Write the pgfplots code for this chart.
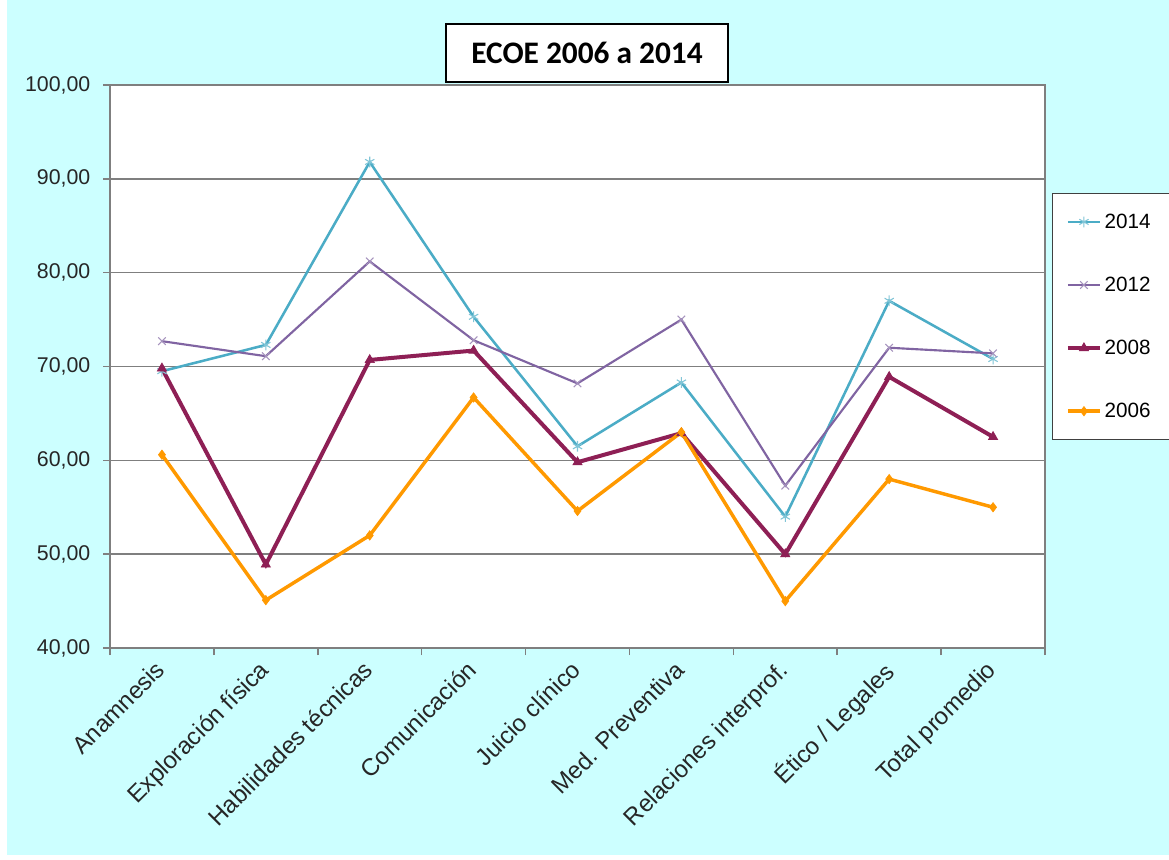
\documentclass[border=0pt]{standalone}
\usepackage{pgfplots}
\pgfplotsset{compat=1.18}
\usetikzlibrary{plotmarks}
\usepackage{fontspec}
\setmainfont{Liberation Sans}
\newfontfamily\titlefont{Carlito}
\definecolor{bgc}{HTML}{CCFFFF}
\definecolor{c14}{HTML}{4BACC6}
\definecolor{c12}{HTML}{8064A2}
\definecolor{c08}{HTML}{8E1F55}
\definecolor{c06}{HTML}{FF9900}
\definecolor{gridc}{HTML}{7F7F7F}
\begin{document}
\begin{tikzpicture}
\path[use as bounding box, clip] (0,0) rectangle (876.75pt,-644.25pt);
\fill[white] (0,0) rectangle (876.75pt,-644.25pt);
\fill[bgc] (5.25pt,0) rectangle (876.75pt,-641.25pt);
\begin{axis}[
  at={(82.5pt,-486pt)}, anchor=south west,
  scale only axis, width=701.25pt, height=422.25pt,
  axis background/.style={fill=white},
  xmin=0.5, xmax=9.5, ymin=40, ymax=100,
  xtick={0.5,1.5,...,9.5},
  x tick label as interval,
  xticklabels={Anamnesis,Exploración física,Habilidades técnicas,Comunicación,Juicio clínico,Med. Preventiva,Relaciones interprof.,Ético / Legales,Total promedio},
  x tick label style={xshift=-6pt, yshift=-1.5pt, rotate=45, anchor=north east, font=\fontsize{18}{20}\selectfont, text=black!85, inner sep=1pt},
  ytick={40,50,...,100},
  y tick label style={font=\fontsize{16}{18}\selectfont, text=black!85, xshift=-6pt},
  /pgf/number format/.cd, fixed, fixed zerofill, precision=2, use comma, assume math mode=true,
  /pgfplots/.cd,
  ymajorgrids, grid style={gridc, line width=1.1pt},
  axis line style={gridc, line width=1.1pt},
  tick style={gridc, line width=1.1pt},
  major tick length=5.25pt,
  tick align=outside,
  xtick pos=bottom, ytick pos=left,
  legend style={at={(1.0075,0.808)}, anchor=north west, draw=black!75, line width=0.9pt, fill=white,
    font=\fontsize{15.5}{17}\selectfont, row sep=31pt, inner ysep=13pt, inner xsep=10pt},
  legend cell align=left,
  legend image code/.code={\draw[mark repeat=2,mark phase=2] plot coordinates {(0pt,0pt) (12pt,0pt) (24pt,0pt)};},
]
\addplot[c14, line width=1.9pt, mark=asterisk, mark size=4pt, mark options={line width=0.8pt, c14!70}]
 coordinates {(1,69.5) (2,72.3) (3,91.8) (4,75.3) (5,61.5) (6,68.3) (7,54.0) (8,77.0) (9,70.8)};
\addlegendentry{2014\hspace*{30pt}}
\addplot[c12, line width=1.6pt, mark=x, mark size=4pt, mark options={line width=0.8pt, c12!70}]
 coordinates {(1,72.7) (2,71.1) (3,81.2) (4,72.8) (5,68.2) (6,75.0) (7,57.3) (8,72.0) (9,71.4)};
\addlegendentry{2012}
\addplot[c08, line width=3pt, mark=triangle*, mark size=4pt, mark options={line width=0.5pt}]
 coordinates {(1,69.8) (2,48.9) (3,70.7) (4,71.7) (5,59.8) (6,62.9) (7,50.0) (8,68.9) (9,62.5)};
\addlegendentry{2008}
\addplot[c06, line width=2.6pt, mark=diamond*, mark size=3.5pt, mark options={line width=0.5pt}]
 coordinates {(1,60.6) (2,45.1) (3,52.0) (4,66.7) (5,54.6) (6,63.0) (7,45.0) (8,58.0) (9,55.0)};
\addlegendentry{2006}
\end{axis}
\node[draw=black, line width=1.5pt, fill=white, minimum width=211.5pt, minimum height=44pt, inner sep=0pt,
  font=\titlefont\bfseries\fontsize{23.5}{26}\selectfont] at (440.25pt,-39.75pt) {ECOE 2006 a 2014};
\end{tikzpicture}
\end{document}
